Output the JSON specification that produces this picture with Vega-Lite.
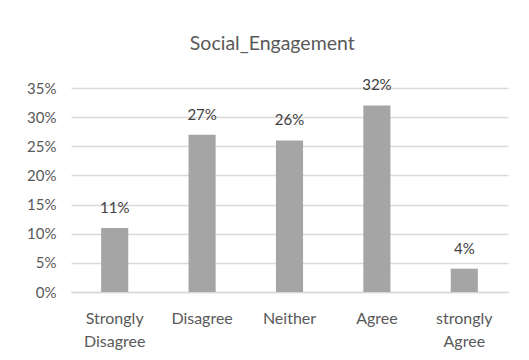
{
  "$schema": "https://vega.github.io/schema/vega-lite/v6.json",
  "width": 437,
  "height": 204,
  "autosize": {"type": "none"},
  "padding": {"left": 71, "top": 88, "right": 21, "bottom": 68},
  "background": "white",
  "config": {"view": {"stroke": null}, "font": "Lato"},
  "title": {"text": "Social_Engagement", "fontSize": 19.5, "font": "Lato", "fontWeight": "normal", "color": "#595959", "anchor": "middle", "frame": "bounds", "baseline": "alphabetic", "offset": 9, "dx": 5},
  "data": {"values": [
    {"response": "Strongly Disagree", "pct": 0.11},
    {"response": "Disagree", "pct": 0.27},
    {"response": "Neither", "pct": 0.26},
    {"response": "Agree", "pct": 0.32},
    {"response": "strongly Agree", "pct": 0.04}
  ]},
  "encoding": {
    "x": {"field": "response", "type": "nominal", "sort": null,
      "scale": {"paddingInner": 0.69, "paddingOuter": 0.345},
      "axis": {"title": null, "labelAngle": 0, "labelExpr": "split(datum.label, ' ')", "labelFontSize": 16, "labelLineHeight": 23, "labelColor": "#595959", "labelPadding": 18, "ticks": false, "domainColor": "#d9d9d9", "domainWidth": 1.3, "labelBaseline": "top"}},
    "y": {"field": "pct", "type": "quantitative",
      "scale": {"domain": [0, 0.35], "nice": false},
      "axis": {"title": null, "format": ".0%", "values": [0, 0.05, 0.1, 0.15, 0.2, 0.25, 0.3, 0.35], "labelFontSize": 15, "labelColor": "#595959", "labelPadding": 15, "ticks": false, "domain": false, "gridColor": "#d9d9d9", "gridWidth": 1.3}}
  },
  "layer": [
    {"mark": {"type": "bar", "color": "#a5a5a5"}},
    {"mark": {"type": "text", "baseline": "alphabetic", "dy": -15, "fontSize": 15, "color": "#404040"},
     "encoding": {"text": {"field": "pct", "type": "quantitative", "format": ".0%"}}}
  ]
}
